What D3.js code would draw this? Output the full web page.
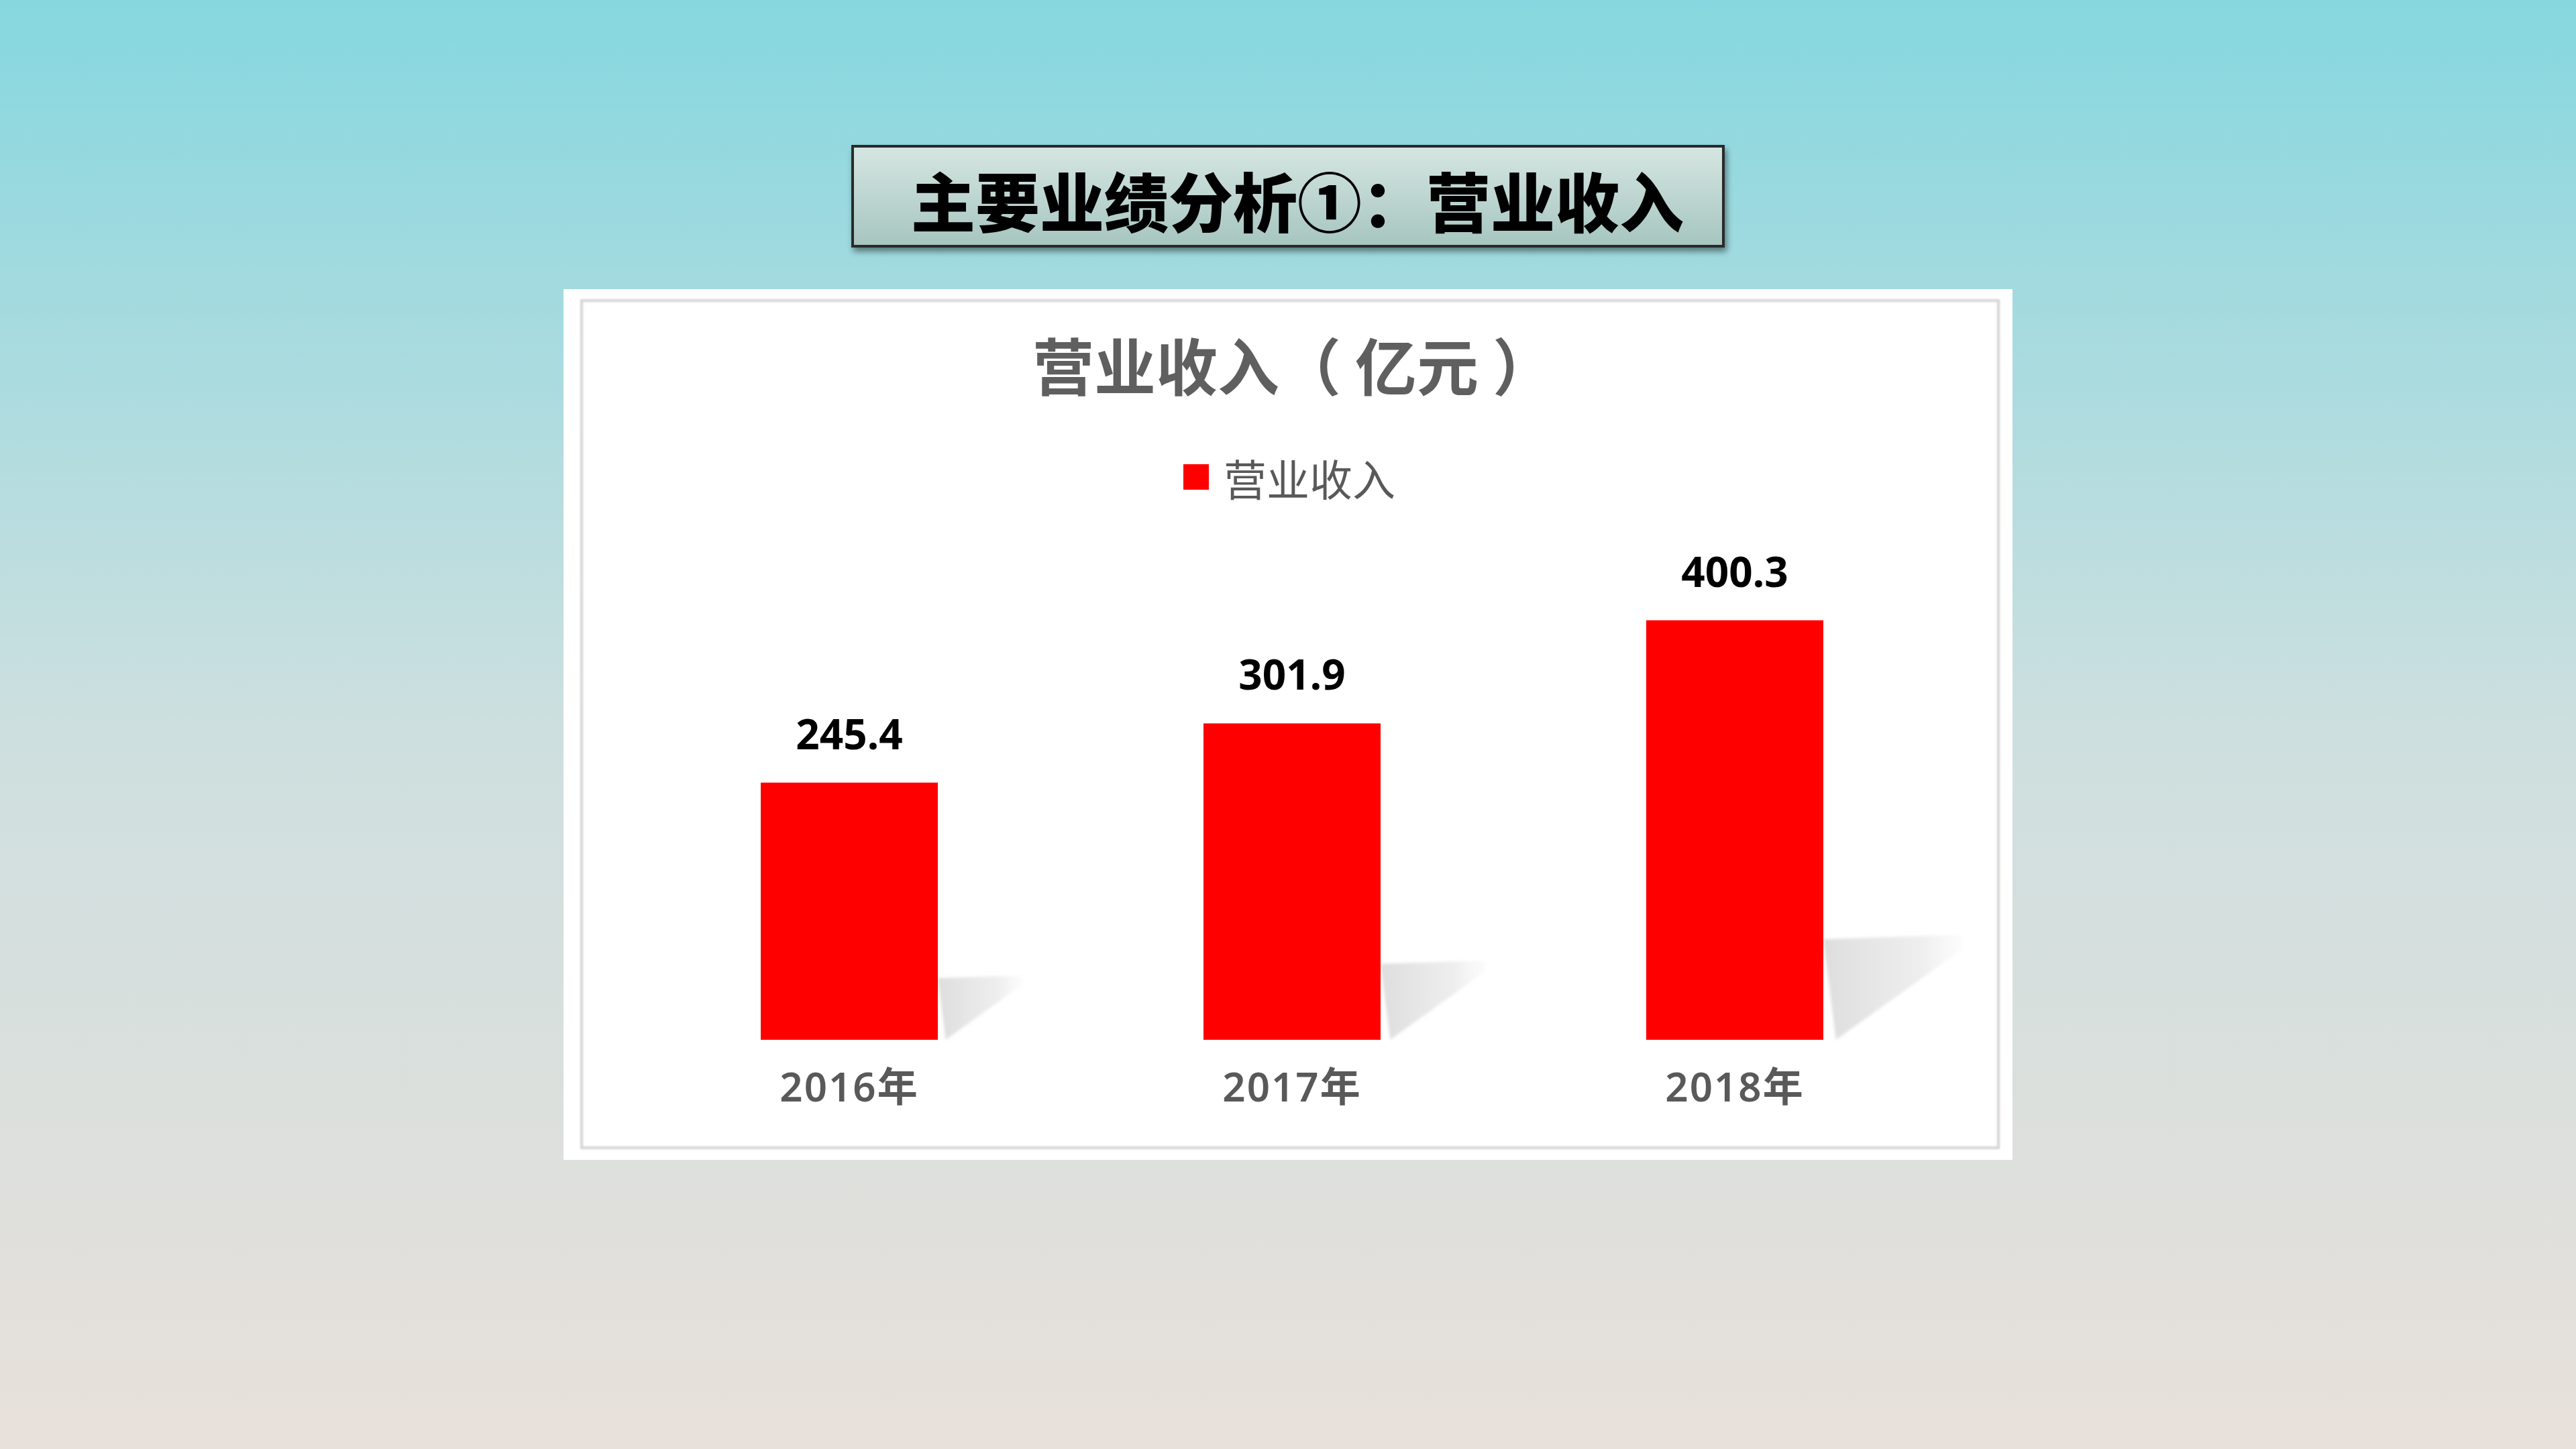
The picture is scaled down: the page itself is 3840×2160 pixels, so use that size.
<!DOCTYPE html>
<html>
<head>
<meta charset="utf-8">
<script src="https://cdn.jsdelivr.net/npm/d3@7/dist/d3.min.js"></script>
<style>
  html, body { margin: 0; padding: 0; background: #ffffff; }
  svg { display: block; }
</style>
</head>
<body>
<svg id="chart" width="3840" height="2160"></svg>
<script>
// ---- data ----
const categories = ["2016年", "2017年", "2018年"];
const revenue = [245.4, 301.9, 400.3];
const seriesName = "营业收入";
const chartTitle = "营业收入（ 亿元 ）";
const slideTitle = "主要业绩分析①：营业收入";

const W = 3840, H = 2160;
const svg = d3.select("#chart");
const defs = svg.append("defs");

// background gradient
const bg = defs.append("linearGradient").attr("id", "bg").attr("x1", 0).attr("y1", 0).attr("x2", 0).attr("y2", 1);
bg.append("stop").attr("offset", "0%").attr("stop-color", "#86d7df");
bg.append("stop").attr("offset", "50%").attr("stop-color", "#cddfdf");
bg.append("stop").attr("offset", "100%").attr("stop-color", "#e8e0da");
svg.append("rect").attr("width", W).attr("height", H).attr("fill", "url(#bg)");

// title box gradient + shadow
const tg = defs.append("linearGradient").attr("id", "tg").attr("x1", 0).attr("y1", 0).attr("x2", 0).attr("y2", 1);
tg.append("stop").attr("offset", "0%").attr("stop-color", "#d6e6e2");
tg.append("stop").attr("offset", "100%").attr("stop-color", "#a6c5bf");
const ds = defs.append("filter").attr("id", "ds").attr("x", "-10%").attr("y", "-20%").attr("width", "120%").attr("height", "150%");
ds.append("feDropShadow").attr("dx", 3).attr("dy", 6).attr("stdDeviation", 5).attr("flood-color", "#000").attr("flood-opacity", 0.45);

svg.append("rect")
  .attr("x", 1271).attr("y", 218).attr("width", 1298).attr("height", 149)
  .attr("fill", "url(#tg)").attr("stroke", "#2b2b2b").attr("stroke-width", 4)
  .attr("filter", "url(#ds)");
svg.append("text")
  .attr("x", 1934).attr("y", 296)
  .attr("text-anchor", "middle").attr("dominant-baseline", "central")
  .attr("font-family", "'Noto Sans CJK SC', sans-serif")
  .attr("font-weight", 900).attr("font-size", 96).attr("fill", "#000")
  .text(slideTitle);

// chart panel
svg.append("rect").attr("x", 840).attr("y", 431).attr("width", 2160).attr("height", 1298).attr("fill", "#ffffff");
const bs = defs.append("filter").attr("id", "bs").attr("x", "-2%").attr("y", "-2%").attr("width", "104%").attr("height", "104%");
bs.append("feGaussianBlur").attr("stdDeviation", 1.5);
svg.append("rect").attr("x", 867).attr("y", 448).attr("width", 2112).attr("height", 1263)
  .attr("fill", "none").attr("stroke", "#d4d4d4").attr("stroke-width", 4).attr("filter", "url(#bs)");

// chart title
svg.append("text")
  .attr("x", 1928).attr("y", 541)
  .attr("text-anchor", "middle").attr("dominant-baseline", "central")
  .attr("font-family", "'Noto Sans CJK SC', sans-serif")
  .attr("font-weight", 700).attr("font-size", 92).attr("fill", "#5f5f5f")
  .text(chartTitle);

// legend
const legend = svg.append("g");
legend.append("rect").attr("x", 1764).attr("y", 692).attr("width", 38).attr("height", 38).attr("fill", "#ff0000");
legend.append("text").attr("x", 1824).attr("y", 711)
  .attr("dominant-baseline", "central")
  .attr("font-family", "'Noto Sans CJK SC', sans-serif")
  .attr("font-size", 64).attr("fill", "#595959")
  .text(seriesName);

// scales
const x = d3.scaleBand().domain(categories).range([936, 2916]).paddingInner(0.6).paddingOuter(0.3);
const y = d3.scaleLinear().domain([0, 450]).range([1550, 847]);

// shadow gradient
const sg = defs.append("linearGradient").attr("id", "sg").attr("x1", 0).attr("y1", 0).attr("x2", 1).attr("y2", 0);
sg.append("stop").attr("offset", "0%").attr("stop-color", "#dcdcdc").attr("stop-opacity", 0.95);
sg.append("stop").attr("offset", "70%").attr("stop-color", "#e6e6e6").attr("stop-opacity", 0.7);
sg.append("stop").attr("offset", "100%").attr("stop-color", "#f0f0f0").attr("stop-opacity", 0.2);
const sb = defs.append("filter").attr("id", "sb").attr("x", "-10%").attr("y", "-10%").attr("width", "120%").attr("height", "120%");
sb.append("feGaussianBlur").attr("stdDeviation", 2);

const data = categories.map((c, i) => ({ c, v: revenue[i] }));

// perspective shadows
svg.append("g").selectAll("polygon").data(data).join("polygon")
  .attr("points", d => {
    const xr = x(d.c) + x.bandwidth();
    const yb = y(0);
    const h = y(0) - y(d.v);
    return [
      [xr, yb - 0.24 * h],
      [xr + 0.33 * h, yb - 0.25 * h],
      [xr + 0.33 * h, yb - 0.215 * h],
      [xr + 0.03 * h, yb]
    ].map(p => p.join(",")).join(" ");
  })
  .attr("fill", "url(#sg)").attr("filter", "url(#sb)");

// bars
svg.append("g").selectAll("rect").data(data).join("rect")
  .attr("x", d => x(d.c)).attr("y", d => y(d.v))
  .attr("width", x.bandwidth()).attr("height", d => y(0) - y(d.v))
  .attr("fill", "#ff0000");

// value labels
svg.append("g").selectAll("text").data(data).join("text")
  .attr("x", d => x(d.c) + x.bandwidth() / 2)
  .attr("y", d => y(d.v) - 74)
  .attr("text-anchor", "middle").attr("dominant-baseline", "central")
  .attr("font-family", "'Noto Sans', sans-serif")
  .attr("font-weight", 700).attr("font-size", 62).attr("fill", "#000")
  .text(d => d3.format(".1f")(d.v));

// category axis
const axis = svg.append("g").attr("transform", `translate(0,${y(0)})`)
  .call(d3.axisBottom(x).tickSize(0).tickPadding(49));
axis.select(".domain").remove();
axis.selectAll("text")
  .attr("font-family", "'Noto Sans', 'Noto Sans CJK SC', sans-serif")
  .attr("font-size", 60).attr("font-weight", 600).attr("fill", "#595959")
  .attr("letter-spacing", 2);
</script>
</body>
</html>
